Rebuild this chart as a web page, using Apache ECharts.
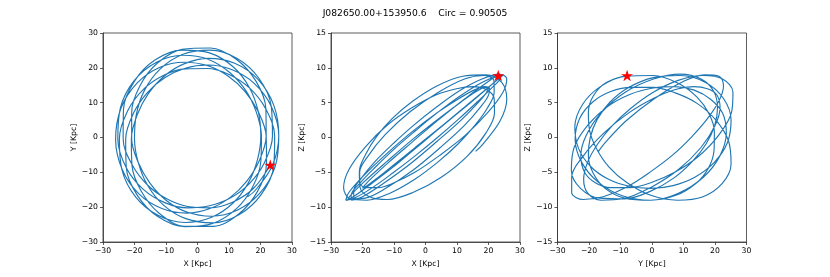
<!DOCTYPE html>
<html>
<head>
<meta charset="utf-8">
<script src="https://cdn.jsdelivr.net/npm/echarts@6/dist/echarts.min.js"></script>
<style>
html,body{margin:0;padding:0;background:#fff;}
#chart{width:830px;height:277px;}
</style>
</head>
<body>
<div id="chart"></div>
<script>
// Orbit positions [Kpc] (first point = current position, the star)
var orbitX = [23.1,17.9,11.1,3.9,-3.1,-9.8,-15.8,-20.7,-23.6,-23.5,-20.0,-13.4,-4.9,3.8,11.3,16.5,19.3,20.1,
  19.0,16.1,11.3,4.5,-3.9,-12.4,-19.6,-24.0,-24.8,-22.2,-17.1,-10.7,-3.8,3.1,10.0,16.4,21.6,24.5,
  24.2,20.2,13.3,4.8,-3.7,-10.8,-15.8,-18.8,-20.0,-19.4,-16.8,-11.8,-4.6,4.0,12.6,19.5,23.4,23.8,
  21.2,16.4,10.4,3.8,-3.2,-10.4,-17.2,-22.6,-25.3,-24.5,-20.1,-13.0,-4.6,3.5,10.3,15.4,18.7,20.3,
  20.1,17.5,12.3,4.8,-4.0,-12.6,-19.1,-22.6,-22.8,-20.3,-15.9,-10.3,-3.9,3.3,10.8,17.9,23.4,25.8,
  24.6,19.8,12.6,4.4,-3.4,-10.0,-15.1,-18.8,-20.9,-20.9,-18.3,-12.8,-4.9,4.1,12.4,18.6,21.7,21.8,
  19.6,15.6,10.4,4.0,-3.4,-11.3,-18.6,-23.9,-26.0,-24.3,-19.2,-12.1,-4.2,3.3,9.8,15.1,19.3,21.8,
  21.9,19.1,13.2,5.0,-4.0,-12.1,-17.8,-20.8,-21.0,-19.1,-15.6,-10.6,-4.1,3.6,11.8,19.2,24.2,25.8,
  23.7,18.5,15.9];
var orbitY = [-7.9,-14.5,-18.6,-20.2,-19.8,-17.6,-13.7,-7.9,-0.4,8.1,16.2,22.3,25.1,24.3,20.3,14.3,7.4,0.4,
  -6.5,-13.1,-18.8,-22.9,-24.4,-22.4,-17.1,-9.2,-0.4,7.6,13.9,17.9,19.7,19.8,18.1,14.3,8.3,0.4,
  -8.3,-16.4,-22.1,-24.5,-23.3,-19.4,-13.8,-7.2,-0.4,6.7,13.6,19.7,23.9,25.1,22.7,17.0,9.0,0.4,
  -7.3,-13.3,-17.4,-19.6,-20.2,-18.7,-14.9,-8.7,-0.4,8.4,16.3,21.6,23.6,22.4,18.6,13.4,7.2,0.4,
  -6.9,-14.2,-20.5,-24.7,-25.6,-22.7,-16.6,-8.7,-0.4,7.0,12.9,17.2,19.9,20.8,19.5,15.6,9.0,0.5,
  -8.5,-16.0,-20.9,-22.6,-21.4,-18.0,-13.1,-7.2,-0.4,7.2,14.8,21.3,25.3,25.7,22.4,16.1,8.3,0.4,
  -6.7,-12.6,-17.2,-20.4,-21.7,-20.4,-16.2,-9.2,-0.5,8.4,15.6,20.1,21.6,20.6,17.6,13.2,7.4,0.4,
  -7.5,-15.4,-21.9,-25.5,-25.5,-21.8,-15.5,-8.0,-0.4,6.6,12.6,17.6,21.2,22.7,21.3,16.7,9.3,0.5,
  -8.2,-15.0,-17.0];
var orbitZ = [8.9,7.9,6.0,3.6,1.0,-1.6,-4.2,-6.5,-8.3,-9.0,-8.5,-6.6,-3.8,-0.5,2.5,4.9,6.4,7.2,
  7.2,6.6,5.1,2.8,-0.2,-3.5,-6.4,-8.4,-9.0,-8.3,-6.6,-4.4,-1.8,0.8,3.4,5.8,7.8,8.9,
  8.8,7.3,4.7,1.5,-1.6,-4.2,-6.0,-7.0,-7.3,-6.9,-5.7,-3.6,-0.8,2.5,5.6,7.9,8.9,8.6,
  7.2,5.1,2.6,0.0,-2.6,-5.1,-7.3,-8.7,-9.0,-8.0,-5.7,-2.6,0.7,3.5,5.5,6.8,7.3,7.1,
  6.2,4.4,1.7,-1.4,-4.7,-7.3,-8.7,-8.8,-7.7,-5.8,-3.4,-0.9,1.7,4.3,6.7,8.4,9.1,8.4,
  6.5,3.6,0.3,-2.6,-5.0,-6.5,-7.2,-7.2,-6.5,-5.0,-2.7,0.4,3.7,6.5,8.4,8.9,8.2,6.5,
  4.2,1.7,-0.9,-3.5,-6.0,-8.0,-9.0,-8.8,-7.2,-4.6,-1.4,1.8,4.3,6.1,7.0,7.3,6.9,5.6,
  3.5,0.6,-2.7,-5.7,-7.9,-8.9,-8.5,-7.1,-4.9,-2.5,0.1,2.7,5.2,7.4,8.8,9.0,7.9,5.5,
  2.4,-0.8,-2.0];
var starX = [23.1], starY = [-7.9], starZ = [8.9];
var titleText = 'J082650.00+153950.6    Circ = 0.90505';
var panels = [
  {h: 'X', v: 'Y', hData: orbitX, vData: orbitY, hStar: starX, vStar: starY, hMin: -30, hMax: 30, hStep: 10, vMin: -30, vMax: 30, vStep: 10},
  {h: 'X', v: 'Z', hData: orbitX, vData: orbitZ, hStar: starX, vStar: starZ, hMin: -30, hMax: 30, hStep: 10, vMin: -15, vMax: 15, vStep: 5},
  {h: 'Y', v: 'Z', hData: orbitY, vData: orbitZ, hStar: starY, vStar: starZ, hMin: -30, hMax: 30, hStep: 10, vMin: -15, vMax: 15, vStep: 5}
];

var FONT = 'DejaVu Sans';
var gridLefts = [103, 331, 557.5];
var starPath = 'path://M50,0 L61.2,34.5 L97.6,34.5 L68.2,55.9 L79.4,90.5 L50,69.1 L20.6,90.5 L31.8,55.9 L2.4,34.5 L38.8,34.5 Z';
function fmt(v){ return String(v).replace('-', '\u2212'); }

var grids = [], xAxes = [], yAxes = [], series = [];
panels.forEach(function(p, i){
  grids.push({left: gridLefts[i], top: 33, width: 189, height: 209, show: true,
    borderColor: '#333', borderWidth: 0.8, backgroundColor: 'transparent'});
  var common = {
    type: 'value', gridIndex: i,
    axisLine: {show: true, onZero: false, lineStyle: {color: '#333', width: 0.8}},
    axisTick: {show: true, inside: false, length: 3, lineStyle: {color: '#333', width: 0.8}},
    splitLine: {show: false},
    nameLocation: 'middle',
    nameTextStyle: {fontFamily: FONT, fontSize: 7.7, color: '#000'},
    axisLabel: {fontFamily: FONT, fontSize: 7.7, color: '#000', margin: 5, formatter: fmt, showMinLabel: true, showMaxLabel: true}
  };
  xAxes.push(Object.assign({}, common, {position: 'bottom', min: p.hMin, max: p.hMax, interval: p.hStep,
    name: p.h + ' [Kpc]', nameGap: 10}));
  yAxes.push(Object.assign({}, common, {position: 'left', min: p.vMin, max: p.vMax, interval: p.vStep,
    name: p.v + ' [Kpc]', nameGap: 22, nameRotate: 90}));
  var pts = p.hData.map(function(v, k){ return [v, p.vData[k]]; });
  series.push({type: 'line', xAxisIndex: i, yAxisIndex: i, data: pts, showSymbol: false, symbol: 'none',
    smooth: 0.35, lineStyle: {color: '#1f77b4', width: 1.15}, clip: true, silent: true, animation: false, z: 2});
  series.push({type: 'scatter', xAxisIndex: i, yAxisIndex: i,
    data: p.hStar.map(function(v, k){ return [v, p.vStar[k]]; }),
    symbol: starPath, symbolSize: 12, symbolKeepAspect: true,
    itemStyle: {color: '#ff0000', opacity: 1}, silent: true, animation: false, z: 5});
});

var chart = echarts.init(document.getElementById('chart'), null, {renderer: 'canvas'});
chart.setOption({
  animation: false,
  backgroundColor: '#fff',
  title: {text: titleText, left: 'center', top: 4,
    textStyle: {fontFamily: FONT, fontSize: 9.2, fontWeight: 'normal', color: '#000'}},
  grid: grids, xAxis: xAxes, yAxis: yAxes, series: series
});
</script>
</body>
</html>
